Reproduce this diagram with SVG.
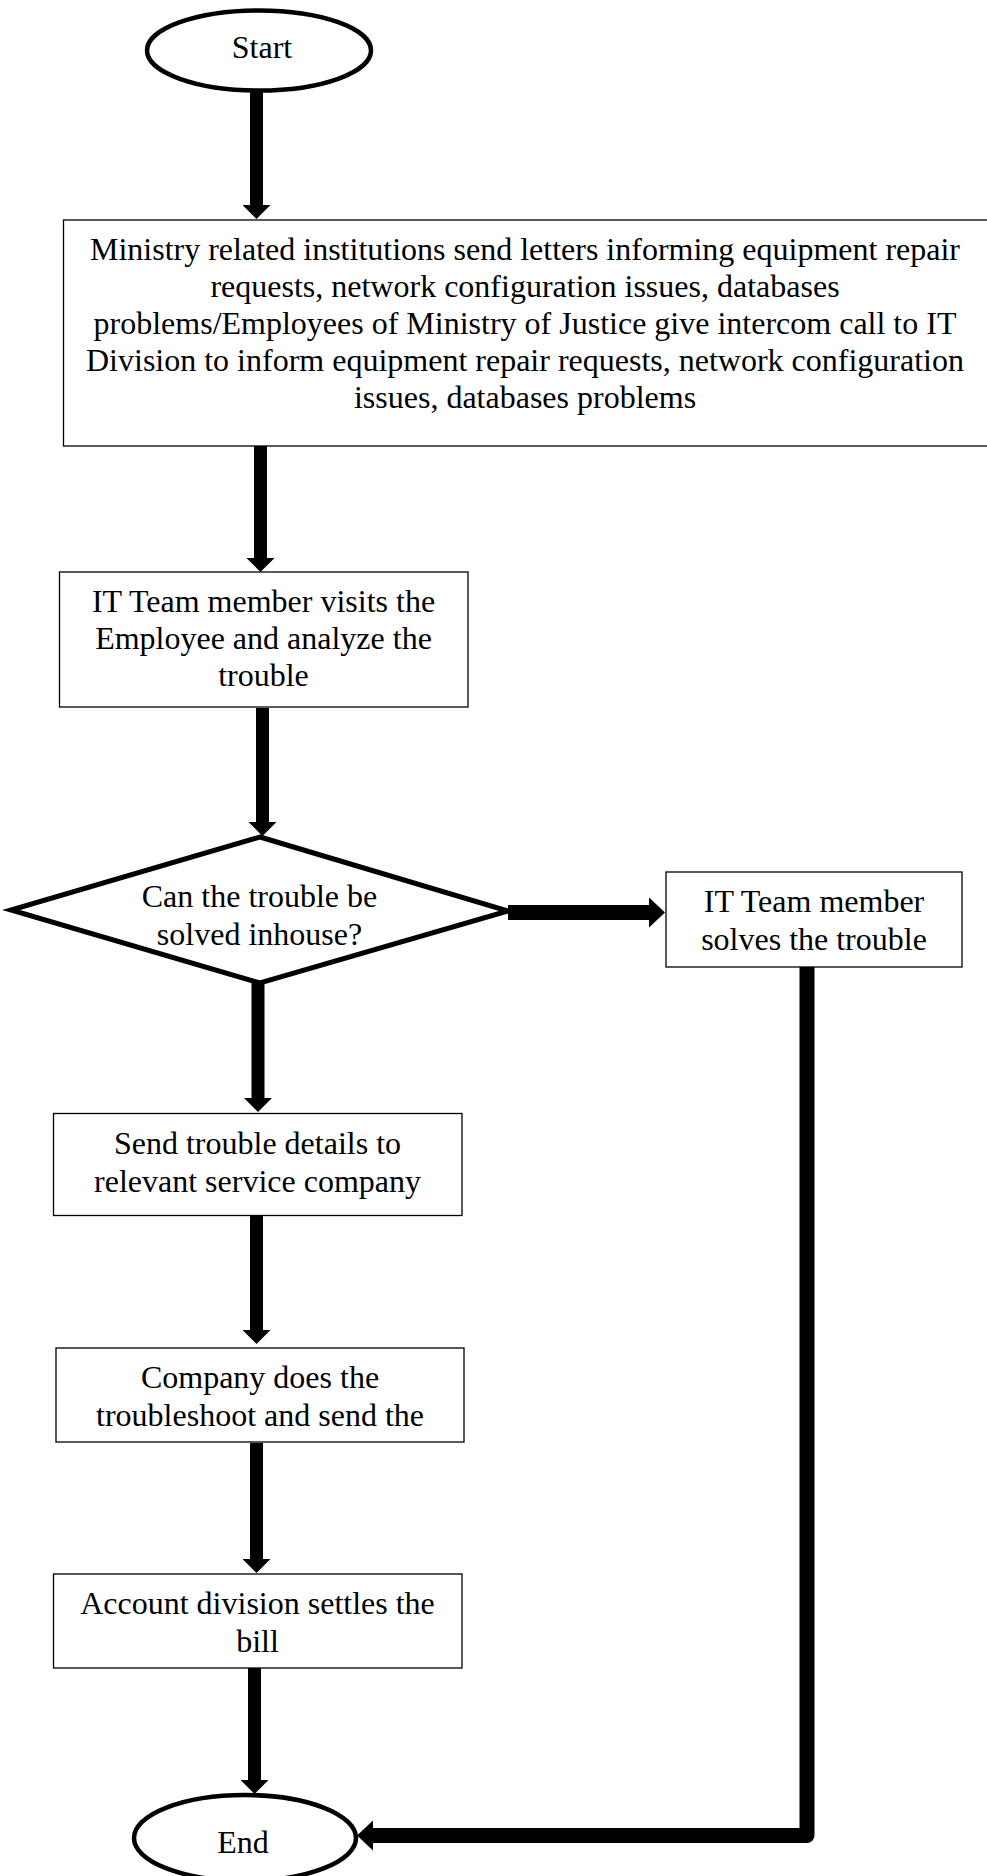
<svg xmlns="http://www.w3.org/2000/svg" width="987" height="1876" viewBox="0 0 987 1876">
  <style>
    .bg { fill: #ffffff; }
    .box { fill: #ffffff; stroke: #000000; stroke-width: 1.3; }
    .term { fill: #ffffff; stroke: #000000; stroke-width: 4.5; }
    .dec { fill: #ffffff; stroke: #000000; stroke-width: 5; stroke-linejoin: miter; }
    .lbl { font-family: "Liberation Serif", "Times New Roman", serif; font-size: 32px; fill: #000000; text-anchor: middle; }
    .flow { fill: none; stroke: #000000; stroke-width: 13; }
    .flow-wide { fill: none; stroke: #000000; stroke-width: 15; }
  </style>
  <defs>
    <marker id="head" markerUnits="userSpaceOnUse" viewBox="0 0 14 28" markerWidth="14" markerHeight="28" refX="0" refY="14" orient="auto">
      <path d="M0,0 L14,14 L0,28 z" fill="#000000"/>
    </marker>
    <marker id="head-wide" markerUnits="userSpaceOnUse" viewBox="0 0 16 30" markerWidth="16" markerHeight="30" refX="0" refY="15" orient="auto">
      <path d="M0,0 L16,15 L0,30 z" fill="#000000"/>
    </marker>
  </defs>

  <rect class="bg" x="0" y="0" width="987" height="1876"/>

  <!-- connectors -->
  <g id="connectors">
    <line class="flow" x1="256.5" y1="91" x2="256.5" y2="205" marker-end="url(#head)"/>
    <line class="flow" x1="260.5" y1="446" x2="260.5" y2="558" marker-end="url(#head)"/>
    <line class="flow" x1="262.5" y1="708" x2="262.5" y2="822" marker-end="url(#head)"/>
    <line class="flow-wide" x1="508" y1="912.5" x2="649" y2="912.5" marker-end="url(#head-wide)"/>
    <line class="flow" x1="258" y1="982" x2="258" y2="1098" marker-end="url(#head)"/>
    <line class="flow" x1="256.5" y1="1216" x2="256.5" y2="1330" marker-end="url(#head)"/>
    <line class="flow" x1="256.5" y1="1443" x2="256.5" y2="1559" marker-end="url(#head)"/>
    <line class="flow" x1="254.5" y1="1668" x2="254.5" y2="1780" marker-end="url(#head)"/>
    <polyline class="flow-wide" points="807,967 807,1835.5 373,1835.5" stroke-linejoin="round" marker-end="url(#head-wide)"/>
  </g>

  <!-- nodes -->
  <g id="start">
    <ellipse class="term" cx="259" cy="50.5" rx="112" ry="40"/>
    <text class="lbl" x="262" y="58">Start</text>
  </g>

  <g id="report-issue">
    <rect class="box" x="63.5" y="220" width="930" height="226"/>
    <text class="lbl" x="525" y="260">Ministry related institutions send letters informing equipment repair</text>
    <text class="lbl" x="525" y="297">requests, network configuration issues, databases</text>
    <text class="lbl" x="525" y="334">problems/Employees of Ministry of Justice give intercom call to IT</text>
    <text class="lbl" x="525" y="371">Division to inform equipment repair requests, network configuration</text>
    <text class="lbl" x="525" y="408">issues, databases problems</text>
  </g>

  <g id="analyze">
    <rect class="box" x="59.5" y="572" width="408.5" height="135"/>
    <text class="lbl" x="263.5" y="612">IT Team member visits the</text>
    <text class="lbl" x="263.5" y="649">Employee and analyze the</text>
    <text class="lbl" x="263.5" y="686">trouble</text>
  </g>

  <g id="inhouse-decision">
    <polygon class="dec" points="260,837 508,911 260,983 11,910"/>
    <text class="lbl" x="259.5" y="907">Can the trouble be</text>
    <text class="lbl" x="259.5" y="945">solved inhouse?</text>
  </g>

  <g id="it-solves">
    <rect class="box" x="666" y="872" width="296" height="95"/>
    <text class="lbl" x="814" y="912">IT Team member</text>
    <text class="lbl" x="814" y="950">solves the trouble</text>
  </g>

  <g id="send-details">
    <rect class="box" x="53.5" y="1113.5" width="408.5" height="102"/>
    <text class="lbl" x="257.5" y="1154">Send trouble details to</text>
    <text class="lbl" x="257.5" y="1192">relevant service company</text>
  </g>

  <g id="company-fix">
    <rect class="box" x="56" y="1348" width="408" height="94"/>
    <text class="lbl" x="260" y="1388">Company does the</text>
    <text class="lbl" x="260" y="1426">troubleshoot and send the</text>
  </g>

  <g id="settle-bill">
    <rect class="box" x="53.5" y="1574" width="408.5" height="94"/>
    <text class="lbl" x="257.5" y="1614">Account division settles the</text>
    <text class="lbl" x="257.5" y="1652">bill</text>
  </g>

  <g id="end">
    <ellipse class="term" cx="245" cy="1838" rx="111" ry="43"/>
    <text class="lbl" x="243" y="1853">End</text>
  </g>
</svg>
